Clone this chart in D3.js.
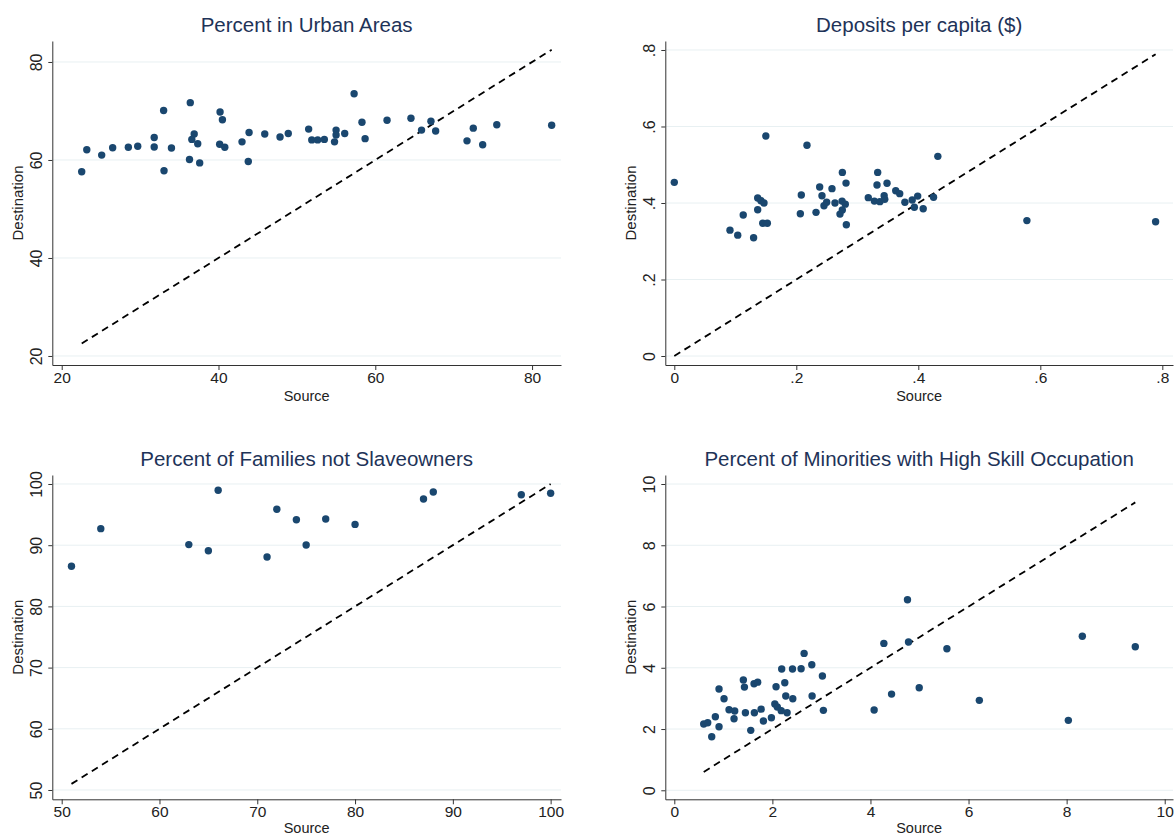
<!DOCTYPE html>
<html>
<head>
<meta charset="utf-8">
<script src="https://cdn.jsdelivr.net/npm/d3@7"></script>
<style>
  html, body { margin: 0; padding: 0; background: #fff; }
  svg { display: block; font-family: "Liberation Sans", Arial, sans-serif; }
</style>
</head>
<body>
<svg id="chart" width="1174" height="836"></svg>
<script>
// Urban share: source vs destination
const urbanSource = [22.55, 23.2, 25.1, 26.5, 28.5, 29.7, 31.8, 31.8, 33.0, 33.05, 34.0, 36.4, 36.3, 36.9, 36.6, 37.35, 37.6, 40.2, 40.5, 40.15, 40.8, 43.0, 43.9, 43.8, 45.9, 47.85, 48.9, 51.5, 51.9, 52.65, 53.5, 55.0, 55.0, 54.8, 56.1, 57.3, 58.3, 58.7, 61.5, 64.55, 65.9, 67.1, 67.7, 71.7, 72.5, 73.7, 75.5, 82.5];
const urbanDest   = [57.6, 62.1, 61.0, 62.5, 62.6, 62.8, 64.6, 62.65, 70.1, 57.8, 62.45, 71.7, 60.1, 65.3, 64.2, 63.3, 59.4, 69.8, 68.2, 63.2, 62.6, 63.7, 65.6, 59.7, 65.3, 64.7, 65.4, 66.3, 64.1, 64.1, 64.2, 66.1, 65.1, 63.7, 65.4, 73.5, 67.7, 64.35, 68.1, 68.5, 66.1, 67.9, 65.9, 63.9, 66.5, 63.1, 67.2, 67.1];

// Bank deposits per capita
const depositSource = [0.0, 0.150, 0.2175, 0.432, 0.2755, 0.3334, 0.2815, 0.3323, 0.3487, 0.2383, 0.2585, 0.363, 0.3695, 0.2421, 0.2082, 0.1367, 0.142, 0.147, 0.1367, 0.113, 0.145, 0.1525, 0.0913, 0.104, 0.130, 0.2066, 0.2323, 0.2454, 0.2498, 0.2634, 0.275, 0.2803, 0.2754, 0.2716, 0.282, 0.318, 0.328, 0.337, 0.344, 0.345, 0.378, 0.390, 0.399, 0.3935, 0.408, 0.425, 0.578, 0.789];
const depositDest   = [0.454, 0.575, 0.551, 0.522, 0.480, 0.480, 0.452, 0.447, 0.4515, 0.442, 0.4375, 0.432, 0.4245, 0.419, 0.421, 0.413, 0.406, 0.400, 0.3825, 0.3686, 0.347, 0.347, 0.329, 0.316, 0.309, 0.372, 0.3755, 0.393, 0.402, 0.400, 0.405, 0.397, 0.3817, 0.371, 0.343, 0.414, 0.405, 0.4035, 0.419, 0.4096, 0.402, 0.408, 0.418, 0.3887, 0.385, 0.415, 0.354, 0.351];

// Families without slaves
const slaveSource = [51, 54, 63, 65, 66, 71, 72, 74, 75, 77, 80, 87, 88, 97, 100];
const slaveDest   = [86.55, 92.7, 90.1, 89.1, 98.97, 88.07, 95.87, 94.17, 90.03, 94.28, 93.4, 97.55, 98.7, 98.25, 98.5];

// Minorities in high-skill occupations
const skillSource = [4.755, 8.32, 9.40, 4.273, 4.776, 5.559, 2.647, 2.804, 2.19, 2.41, 2.586, 3.02, 1.408, 1.626, 1.70, 1.43, 0.912, 2.253, 2.075, 1.014, 2.273, 2.416, 2.81, 4.43, 4.994, 6.22, 1.116, 1.232, 1.218, 1.45, 1.633, 1.77, 2.05, 2.10, 2.18, 2.30, 1.817, 1.98, 3.04, 4.075, 8.035, 0.60, 0.681, 0.837, 0.912, 0.763, 1.559];
const skillDest   = [6.22, 5.03, 4.685, 4.796, 4.84, 4.62, 4.47, 4.10, 3.96, 3.96, 3.97, 3.73, 3.60, 3.48, 3.53, 3.37, 3.305, 3.51, 3.38, 2.99, 3.077, 2.99, 3.077, 3.14, 3.35, 2.936, 2.63, 2.587, 2.336, 2.53, 2.53, 2.65, 2.815, 2.72, 2.60, 2.53, 2.26, 2.37, 2.61, 2.62, 2.284, 2.163, 2.206, 2.40, 2.075, 1.75, 1.957];

// Panel titles and tick values
const titles = ["Percent in Urban Areas", "Deposits per capita ($)", "Percent of Families not Slaveowners", "Percent of Minorities with High Skill Occupation"];
const urbanTicks = [20, 40, 60, 80];
const depositTicks = [0, 0.2, 0.4, 0.6, 0.8];
const slaveXTicks = [50, 60, 70, 80, 90, 100];
const slaveYTicks = [50, 60, 70, 80, 90, 100];
const skillTicks = [0, 2, 4, 6, 8, 10];

const fmtDecimal = v => v === 0 ? "0" : d3.format(".1f")(v).replace(/^0/, "");

const panels = [
  { title: titles[0], xs: urbanSource, ys: urbanDest,
    frame: { left: 52.3, right: 561, top: 41, bottom: 365 }, sourceGap: 35.5,
    xDomain: [18.80, 83.69], yDomain: [18.16, 84.28],
    xTicks: urbanTicks, yTicks: urbanTicks, fmt: d3.format("d") },
  { title: titles[1], xs: depositSource, ys: depositDest,
    frame: { left: 665.3, right: 1173, top: 41, bottom: 365 }, sourceGap: 35.5,
    xDomain: [-0.01475, 0.8175], yDomain: [-0.0235, 0.8235],
    xTicks: depositTicks, yTicks: depositTicks, fmt: fmtDecimal },
  { title: titles[2], xs: slaveSource, ys: slaveDest,
    frame: { left: 52.3, right: 561, top: 475, bottom: 799.3 }, sourceGap: 34,
    xDomain: [49.04, 101.06], yDomain: [48.48, 101.47],
    xTicks: slaveXTicks, yTicks: slaveYTicks, fmt: d3.format("d") },
  { title: titles[3], xs: skillSource, ys: skillDest,
    frame: { left: 665.3, right: 1173, top: 475, bottom: 799.3 }, sourceGap: 34,
    xDomain: [-0.1835, 10.169], yDomain: [-0.294, 10.294],
    xTicks: skillTicks, yTicks: skillTicks, fmt: d3.format("d") }
];

const svg = d3.select("#chart");
const navy = "#1a476f";
const titleColor = "#1e3358";
const gridColor = "#e8f0f2";
const axisColor = "#333";

panels.forEach(p => {
  const f = p.frame;
  const x = d3.scaleLinear().domain(p.xDomain).range([f.left, f.right]);
  const y = d3.scaleLinear().domain(p.yDomain).range([f.bottom, f.top]);
  const g = svg.append("g");

  // horizontal grid
  g.append("g").selectAll("line").data(p.yTicks).join("line")
    .attr("x1", f.left).attr("x2", f.right)
    .attr("y1", d => y(d)).attr("y2", d => y(d))
    .attr("stroke", gridColor).attr("stroke-width", 1);

  // y axis with rotated labels
  const yAxis = g.append("g")
    .attr("transform", `translate(${f.left},0)`)
    .call(d3.axisLeft(y).tickValues(p.yTicks).tickFormat(p.fmt).tickSize(4).tickSizeOuter(0));
  yAxis.attr("font-family", null);
  yAxis.select(".domain").attr("stroke", axisColor);
  yAxis.selectAll(".tick line").attr("stroke", axisColor);
  yAxis.selectAll(".tick text")
    .attr("x", null).attr("dy", null)
    .attr("transform", "translate(-10,0) rotate(-90)")
    .attr("text-anchor", "middle")
    .attr("font-size", 16)
    .attr("fill", "#222");

  // x axis
  const xAxis = g.append("g")
    .attr("transform", `translate(0,${f.bottom})`)
    .call(d3.axisBottom(x).tickValues(p.xTicks).tickFormat(p.fmt).tickSize(5).tickSizeOuter(0));
  xAxis.attr("font-family", null);
  xAxis.select(".domain").attr("stroke", axisColor);
  xAxis.selectAll(".tick line").attr("stroke", axisColor);
  xAxis.selectAll(".tick text")
    .attr("y", 7).attr("dy", "0.71em")
    .attr("font-size", 15.5)
    .attr("fill", "#222");

  // 45-degree reference line across the source range
  const [lo, hi] = d3.extent(p.xs);
  g.append("line")
    .attr("x1", x(lo)).attr("y1", y(lo))
    .attr("x2", x(hi)).attr("y2", y(hi))
    .attr("stroke", "#000").attr("stroke-width", 1.8)
    .attr("stroke-dasharray", "7,5");

  // scatter points
  g.append("g").selectAll("circle").data(d3.zip(p.xs, p.ys)).join("circle")
    .attr("cx", d => x(d[0])).attr("cy", d => y(d[1]))
    .attr("r", 3.7)
    .attr("fill", navy);

  // titles
  const cx = (f.left + f.right) / 2;
  g.append("text")
    .attr("x", cx).attr("y", f.top - 9)
    .attr("text-anchor", "middle")
    .attr("font-size", 20.5)
    .attr("fill", titleColor)
    .text(p.title);

  g.append("text")
    .attr("x", cx).attr("y", f.bottom + p.sourceGap)
    .attr("text-anchor", "middle")
    .attr("font-size", 14.5)
    .attr("fill", "#222")
    .text("Source");

  g.append("text")
    .attr("transform", `translate(${f.left - 29},${(f.top + f.bottom) / 2}) rotate(-90)`)
    .attr("text-anchor", "middle")
    .attr("font-size", 15)
    .attr("fill", "#222")
    .text("Destination");
});
</script>
</body>
</html>
